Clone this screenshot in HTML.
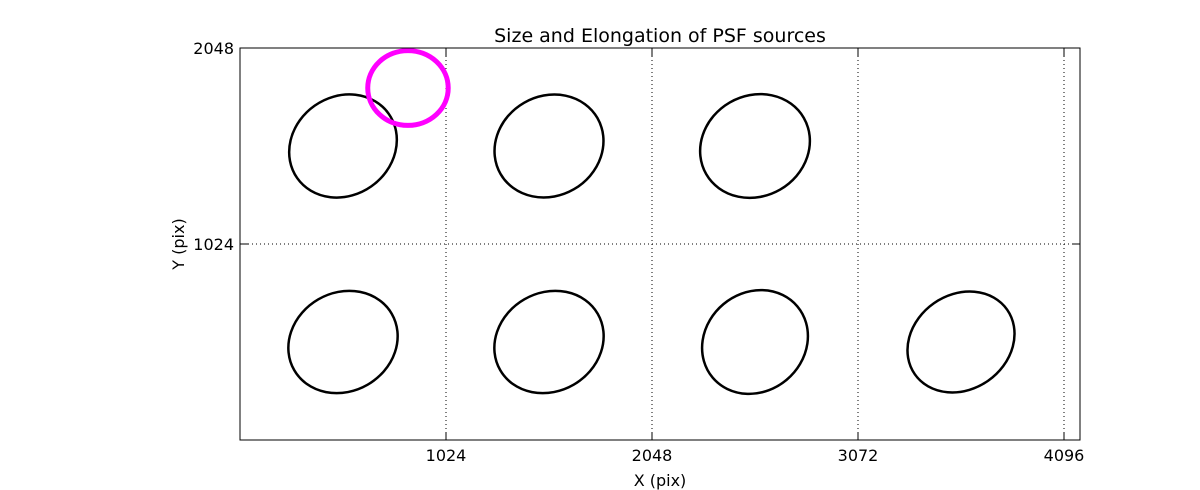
<!DOCTYPE html>
<html><head><meta charset="utf-8"><style>
body{margin:0;background:#fff;}
svg{display:block;font-family:"DejaVu Sans","Liberation Sans",sans-serif;}
</style></head><body>
<svg id="chart" width="1200" height="490">
<rect x="0" y="0" width="1200" height="490" fill="#fff"/>
<g id="grid"></g>
<g id="marks"></g>
<rect x="240" y="48" width="840" height="392" fill="none" stroke="#000" stroke-width="1"/>
<g id="ticks"></g>
<text x="660" y="42" text-anchor="middle" font-size="19">Size and Elongation of PSF sources</text>
<text x="660" y="486" text-anchor="middle" font-size="16">X (pix)</text>
<text x="184" y="244" text-anchor="middle" font-size="16" transform="rotate(-90 184 244)">Y (pix)</text>
</svg>
<script>
const xTicks=[1024,2048,3072,4096];
const yTicks=[1024,2048];
const srcX=[512,1536,2560,512,1536,2560,3584];
const srcY=[1536,1536,1536,512,512,512,512];
const srcA=[278,278,280,280,280,275,280];
const srcB=[245,248,250,245,245,245,235];
const srcAngle=[35,30,30,30,30,40,35];
const hiX=[835];const hiY=[1839];const hiR=[200];
const X0=240,X1=1080,Y0=440,Y1=48,XMAX=840/(206/1024),YMAX=2048;
const sx=v=>X0+v/XMAX*(X1-X0);
const sy=v=>Y0-v/YMAX*(Y0-Y1);
const kx=(X1-X0)/XMAX, ky=(Y0-Y1)/YMAX;
const NS='http://www.w3.org/2000/svg';
function mk(t,a,p){const e=document.createElementNS(NS,t);for(const k in a)e.setAttribute(k,a[k]);p.appendChild(e);return e;}
const grid=document.getElementById('grid'),ticks=document.getElementById('ticks'),marks=document.getElementById('marks');
xTicks.forEach(v=>{const x=sx(v);
 let g=mk('line',{x1:x,x2:x,y1:Y1,y2:Y0,stroke:'#000','stroke-width':1,'stroke-dasharray':'1,3'},grid);
 
 mk('line',{x1:x,x2:x,y1:Y0,y2:Y0-8,stroke:'#000'},ticks);
 mk('line',{x1:x,x2:x,y1:Y1,y2:Y1+8,stroke:'#000'},ticks);
 let t=mk('text',{x:x,y:Y0+21,'text-anchor':'middle','font-size':16},ticks);t.textContent=v;
 });
yTicks.forEach(v=>{const y=sy(v);
 if(v<YMAX){let g=mk('line',{x1:X0,x2:X1,y1:y,y2:y,stroke:'#000','stroke-width':1,'stroke-dasharray':'1,3'},grid);
 }
 mk('line',{x1:X0,x2:X0+8,y1:y,y2:y,stroke:'#000'},ticks);
 mk('line',{x1:X1,x2:X1-8,y1:y,y2:y,stroke:'#000'},ticks);
 let t=mk('text',{x:X0-6,y:y+6,'text-anchor':'end','font-size':16},ticks);t.textContent=v;
 });
srcX.forEach((v,i)=>{const cx=sx(v),cy=sy(srcY[i]);
 const e=mk('ellipse',{cx:cx,cy:cy,rx:srcA[i]*kx,ry:srcB[i]*kx,fill:'none',stroke:'#000','stroke-width':2.5,transform:`rotate(${-srcAngle[i]} ${cx} ${cy})`},marks);
 });
hiX.forEach((v,i)=>{const e=mk('ellipse',{cx:sx(v),cy:sy(hiY[i]),rx:hiR[i]*kx,ry:hiR[i]*kx*0.93,fill:'none',stroke:'#ff00ff','stroke-width':5},marks);
 });
</script>
</body></html>
